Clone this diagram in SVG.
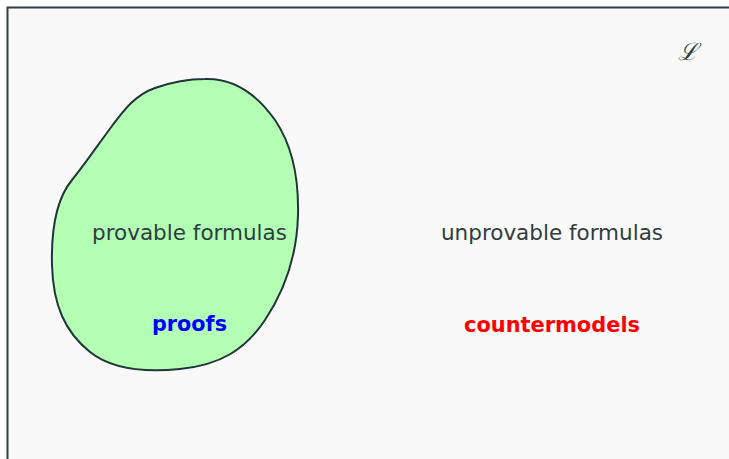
<svg xmlns="http://www.w3.org/2000/svg" width="729" height="459" viewBox="0 0 729 459">
<style>
.lbl{font-family:"DejaVu Sans","Liberation Sans",sans-serif;font-size:21px;fill:#2e3d40;text-anchor:middle}
.bold{font-family:"DejaVu Sans","Liberation Sans",sans-serif;font-size:22px;font-weight:bold;text-anchor:middle}
</style>
<rect width="729" height="459" fill="#ffffff"/>
<g id="universe">
<rect x="7.5" y="7.5" width="740" height="470" fill="#f9f9f9" stroke="#2f3f42" stroke-width="2"/>
<text x="688" y="60" font-family="'Liberation Serif',serif" font-style="italic" font-size="24" fill="#2e3d40" text-anchor="middle">ℒ</text>
</g>
<g id="provable">
<path d="M205,79 C235,78 258,96 275,120 C292,145 299,175 298,215 C297,255 285,290 265,320 C245,350 220,365 180,369 C140,373 110,368 90,352 C65,332 53,305 52,265 C51,225 57,198 72,180 C85,164 100,142 112,126 C124,110 135,95 155,88 C172,82 188,79 205,79 Z" fill="#b3ffb3" stroke="#22343a" stroke-width="2"/>
<text class="lbl" x="189.5" y="240" textLength="195" lengthAdjust="spacingAndGlyphs">provable formulas</text>
<text class="bold" x="189.5" y="331" fill="#0000ff" textLength="75" lengthAdjust="spacingAndGlyphs">proofs</text>
</g>
<g id="unprovable">
<text class="lbl" x="552" y="240" textLength="222" lengthAdjust="spacingAndGlyphs">unprovable formulas</text>
<text class="bold" x="552" y="332" fill="#ff0000" textLength="176" lengthAdjust="spacingAndGlyphs">countermodels</text>
</g>
<g id="connectors"/>
</svg>
